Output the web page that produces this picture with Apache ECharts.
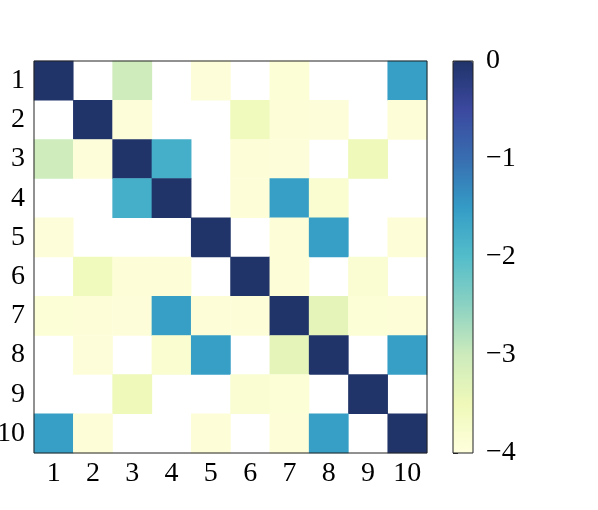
<!DOCTYPE html>
<html>
<head>
<meta charset="utf-8">
<script src="https://cdn.jsdelivr.net/npm/echarts@6/dist/echarts.min.js"></script>
<style>html,body{margin:0;padding:0;background:#fff;}#c{width:598px;height:510px;}</style>
</head>
<body>
<div id="c"></div>
<script>
const categories = ['1','2','3','4','5','6','7','8','9','10'];
// log-values per row (null = masked / blank cell)
const row1  = [0, null, -3.02, null, -3.95, null, -3.9, null, null, -1.55];
const row2  = [null, 0, -3.95, null, null, -3.55, -3.93, -3.95, null, -3.93];
const row3  = [-3.02, -3.95, 0, -1.77, null, -3.93, -3.95, null, -3.5, null];
const row4  = [null, null, -1.77, 0, null, -3.93, -1.55, -3.8, null, null];
const row5  = [-3.95, null, null, null, 0, null, -3.93, -1.55, null, -3.93];
const row6  = [null, -3.55, -3.93, -3.93, null, 0, -3.93, null, -3.85, null];
const row7  = [-3.9, -3.93, -3.95, -1.55, -3.93, -3.93, 0, -3.35, -3.9, -3.93];
const row8  = [null, -3.95, null, -3.8, -1.55, null, -3.35, 0, null, -1.55];
const row9  = [null, null, -3.5, null, null, -3.85, -3.9, null, 0, null];
const row10 = [-1.55, -3.93, null, null, -3.93, null, -3.93, -1.55, null, 0];
const rows = [row1,row2,row3,row4,row5,row6,row7,row8,row9,row10];
const colorbarTicks = [0, -1, -2, -3, -4];

// YlGnBu drawn at alpha 0.9 over white
const ylgnbu = [[255,255,217],[237,248,177],[199,233,180],[127,205,187],[65,182,196],[29,145,192],[34,94,168],[37,52,148],[8,29,88]];
const cmap = ylgnbu.map(c => 'rgb(' + c.map(v => Math.round(v*0.9 + 25.5)).join(',') + ')');

const data = [];
rows.forEach((r, i) => r.forEach((v, j) => { if (v !== null) data.push([j, i, v]); }));

const font = 'Liberation Serif';
const fs = 28;
const chart = echarts.init(document.getElementById('c'));
chart.setOption({
  animation: false,
  backgroundColor: '#fff',
  grid: [
    {left: 34, top: 61, width: 393, height: 392, show: true, z: 10, backgroundColor: 'transparent', borderColor: '#222', borderWidth: 1, outerBoundsMode: 'none', containLabel: false},
    {left: 453, top: 61, width: 20, height: 392, show: true, z: 10, backgroundColor: 'transparent', borderColor: '#222', borderWidth: 1, outerBoundsMode: 'none', containLabel: false}
  ],
  xAxis: [
    {type: 'category', data: categories, gridIndex: 0,
     axisLine: {show: false}, axisTick: {alignWithLabel: true, length: 5, lineStyle: {color: '#222'}},
     axisLabel: {fontFamily: font, fontSize: fs, color: '#000', margin: 7}, splitLine: {show: false}},
    {type: 'value', gridIndex: 1, show: false, min: 0, max: 1}
  ],
  yAxis: [
    {type: 'category', data: categories, inverse: true, gridIndex: 0,
     axisLine: {show: false}, axisTick: {alignWithLabel: true, length: 5, lineStyle: {color: '#222'}},
     axisLabel: {fontFamily: font, fontSize: fs, color: '#000', margin: 9}, splitLine: {show: false}},
    {type: 'value', gridIndex: 1, position: 'right', min: -4, max: 0, interval: 1,
     axisLine: {show: false}, axisTick: {show: true, length: 5, lineStyle: {color: '#222'}},
     splitLine: {show: false},
     axisLabel: {fontFamily: font, fontSize: fs, color: '#000', margin: 13,
       formatter: v => colorbarTicks.includes(v) ? String(v).replace('-', '\u2212') : ''}}
  ],
  visualMap: {
    type: 'continuous', min: -4, max: 0, seriesIndex: 0, calculable: false,
    orient: 'vertical', left: 453, top: 61, itemWidth: 20, itemHeight: 392, padding: 0,
    text: null, hoverLink: false,
    inRange: {color: cmap}
  },
  series: [{
    type: 'heatmap', xAxisIndex: 0, yAxisIndex: 0, data: data,
    itemStyle: {borderWidth: 0}, emphasis: {disabled: true}
  }]
});
</script>
</body>
</html>
